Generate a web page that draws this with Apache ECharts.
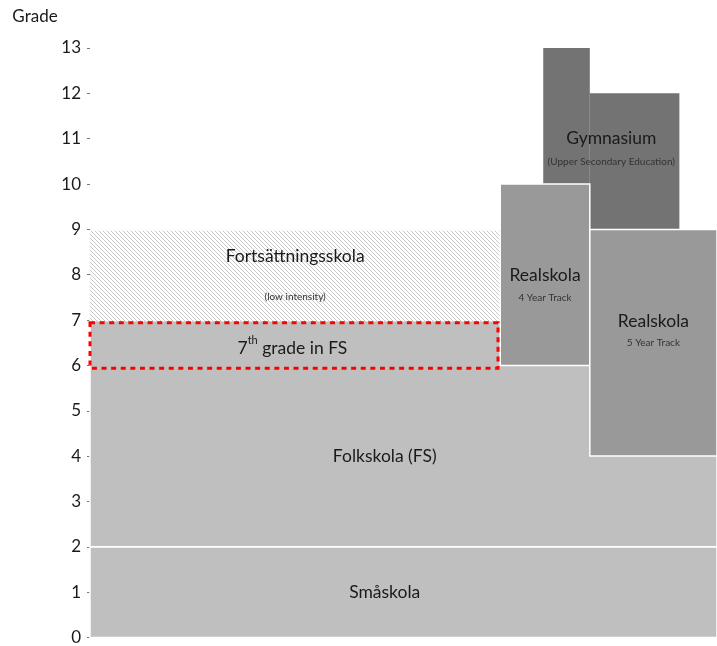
<!DOCTYPE html>
<html>
<head>
<meta charset="utf-8">
<script src="https://cdn.jsdelivr.net/npm/echarts@6/dist/echarts.min.js"></script>
<style>
  html, body { margin: 0; padding: 0; background: #fff; }
  #chart { width: 717px; height: 646px; }
</style>
</head>
<body>
<div id="chart"></div>
<script>
const gradeTicks = [0, 1, 2, 3, 4, 5, 6, 7, 8, 9, 10, 11, 12, 13];

// school blocks, drawn in this order; each piece is [x0, x1, gradeFrom, gradeTo]
const blockNames = ["Småskola", "Folkskola (FS)", "Fortsättningsskola", "Gymnasium", "Realskola", "Realskola"];
const blockSubs = ["", "", "(low intensity)", "(Upper Secondary Education)", "4 Year Track", "5 Year Track"];
const blockPieces = [
  [[0, 7, 0, 2]],
  [[0, 7, 2, 7]],
  [[0, 4.58, 6.97, 8.97]],
  [[5.06, 5.58, 10, 13], [5.58, 6.58, 9, 12]],
  [[4.58, 5.58, 6, 10]],
  [[5.58, 7, 4, 9]],
];
const blockLabelAt = [[3.29, 1], [3.29, 4], [2.29, 8.4], [5.82, 11], [5.08, 7.98], [6.29, 6.98]];
const blockSubAt = [null, null, [2.29, 7.52], [5.82, 10.5], [5.08, 7.5], [6.29, 6.5]];

// 7th grade in FS, highlighted
const seventhSpan = [0, 4.555, 5.94, 6.94];
const seventhLabelAt = [2.26, 6.42];

const fills = ["#bfbfbf", "#bfbfbf", "hatch", "#737373", "#999999", "#999999"];
const strokes = ["#fff", "#fff", null, null, "#fff", "#fff"];
const FONT = "Lato, 'DejaVu Sans', sans-serif";

// diagonal hatch pattern
function makeHatch() {
  const s = 4;
  const c = document.createElement("canvas");
  c.width = s; c.height = s;
  const ctx = c.getContext("2d");
  ctx.fillStyle = "#fff";
  ctx.fillRect(0, 0, s, s);
  ctx.strokeStyle = "#c2c2c2";
  ctx.lineWidth = 0.9;
  ctx.beginPath();
  ctx.moveTo(-1, -1); ctx.lineTo(s + 1, s + 1);
  ctx.moveTo(-1, s - 1); ctx.lineTo(1, s + 1);
  ctx.moveTo(s - 1, -1); ctx.lineTo(s + 1, 1);
  ctx.stroke();
  return { image: c, repeat: "repeat" };
}
const hatch = makeHatch();

function rectOf(api, p) {
  const a = api.coord([p[0], p[3]]);
  const b = api.coord([p[1], p[2]]);
  return { x: a[0], y: a[1], width: b[0] - a[0], height: b[1] - a[1] };
}

function renderBlock(params, api) {
  const i = params.dataIndex;
  const children = [];
  blockPieces[i].forEach((p) => {
    children.push({
      type: "rect",
      shape: rectOf(api, p),
      style: {
        fill: fills[i] === "hatch" ? hatch : fills[i],
        stroke: strokes[i] || null,
        lineWidth: strokes[i] ? 1.5 : 0,
      },
    });
  });
  return { type: "group", children: children };
}

function renderLabels(params, api) {
  const children = [];
  blockNames.forEach((name, i) => {
    const c = api.coord(blockLabelAt[i]);
    children.push({
      type: "text",
      style: {
        text: name, x: c[0], y: c[1], align: "center", verticalAlign: "middle",
        fill: "#1a1a1a", fontSize: 17.5, fontFamily: FONT,
      },
    });
    if (blockSubAt[i]) {
      const s = api.coord(blockSubAt[i]);
      children.push({
        type: "text",
        style: {
          text: blockSubs[i], x: s[0], y: s[1], align: "center", verticalAlign: "middle",
          fill: "#333", fontSize: 10, fontFamily: FONT,
        },
      });
    }
  });
  // 7th grade box
  children.push({
    type: "rect",
    shape: rectOf(api, seventhSpan),
    style: { fill: null, stroke: "#ff0000", lineWidth: 3, lineDash: [5, 4.6] },
  });
  const t = api.coord(seventhLabelAt);
  children.push({
    type: "text",
    style: {
      text: "{a|7}{s|th}{a| grade in FS}", x: t[0], y: t[1], align: "center", verticalAlign: "middle",
      fill: "#1a1a1a", fontFamily: FONT,
      rich: {
        a: { fontSize: 17.5, fontFamily: FONT, fill: "#1a1a1a", lineHeight: 22, verticalAlign: "bottom" },
        s: { fontSize: 11, fontFamily: FONT, fill: "#1a1a1a", lineHeight: 22, verticalAlign: "top" },
      },
    },
  });
  return { type: "group", children: children };
}

const chart = echarts.init(document.getElementById("chart"));
chart.setOption({
  animation: false,
  grid: { left: 90, right: 0, top: 48, bottom: 7 },
  xAxis: { type: "value", min: 0, max: 7, show: false },
  yAxis: {
    type: "value", min: 0, max: 13, interval: 1,
    name: "Grade", nameLocation: "end", nameGap: 23,
    nameTextStyle: { color: "#1a1a1a", fontSize: 17, fontFamily: FONT, padding: [0, 110, 0, 0] },
    axisLine: { show: false },
    axisTick: { show: true, length: 3, lineStyle: { color: "#777" } },
    splitLine: { show: false },
    axisLabel: {
      color: "#1a1a1a", fontSize: 17, fontFamily: FONT, margin: 9,
      formatter: (v) => (gradeTicks.indexOf(v) >= 0 ? String(v) : ""),
    },
  },
  series: [
    { type: "custom", renderItem: renderBlock, data: blockNames.map((n, i) => [i]), clip: false, silent: true },
    { type: "custom", renderItem: renderLabels, data: [[0]], clip: false, silent: true, z: 3 },
  ],
});
</script>
</body>
</html>
